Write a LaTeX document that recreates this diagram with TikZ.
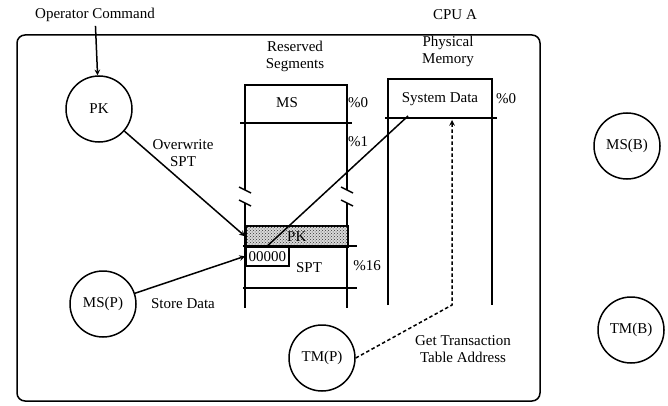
\documentclass[tikz,border=0pt]{standalone}
\usepackage{fontspec}
\setmainfont{Liberation Serif}
\usetikzlibrary{positioning,patterns}

\begin{document}
\begin{tikzpicture}[x=1pt,y=-1pt,->,>=stealth,line width=1.5pt,
    every node/.style={font=\fontsize{15}{17}\selectfont,align=center},
    proc node/.style={circle,draw,minimum size=66pt,inner sep=0pt},
    seg box/.style={draw,anchor=north west,inner sep=0pt},
    dotted link/.style={dash pattern=on 3.5pt off 2.5pt}]
    \useasboundingbox (0,0) rectangle (668,406);

    % CPU A frame
    \draw[-,rounded corners=8pt] (17,35) rectangle (540,401);
    \node (cpu) at (455,15) {CPU A};
    \node (cmd) at (95,15) {Operator Command};

    % processes
    \node[proc node] (pk) at (99,109) {PK};
    \node[proc node] (msp) at (103,304) {MS(P)};
    \node[proc node] (tmp) at (322,358) {TM(P)};
    \node[proc node] (msb) at (627,146) {MS(B)};
    \node[proc node] (tmb) at (631,330) {TM(B)};

    % reserved segments
    \node (reslbl) at (295,56) {Reserved\\Segments};
    \draw[-] (245,190) -- (245,85) -- (347,85) -- (347,190);
    \draw[-] (245,203) -- (245,308);
    \draw[-] (347,203) -- (347,308);
    \draw[-] (239,187) -- (251,193);
    \draw[-] (239,200) -- (251,206);
    \draw[-] (341,187) -- (353,193);
    \draw[-] (341,200) -- (353,206);
    \draw[-] (240,123) -- (352,123);
    \node (ms) at (287,103) {MS};
    \node (off0) at (358,103) {\%0};
    \node (off1) at (358,142) {\%1};
    \node[seg box,fill=gray!30,postaction={pattern=crosshatch dots,pattern color=black!80},
          minimum width=102pt,minimum height=21pt] (pkseg) at (245,225) {PK};
    \draw[-] (243,246) -- (357,246);
    \node[seg box,fill=white,minimum width=43pt,minimum height=19pt] (zbox) at (245,246) {00000};
    \node (spt) at (309,268) {SPT};
    \node (off16) at (367,266) {\%16};
    \draw[-] (243,288) -- (357,288);

    % physical memory
    \node (physlbl) at (448,51) {Physical\\Memory};
    \draw[-] (388,305) -- (388,79) -- (492,79) -- (492,305);
    \draw[-] (385,118) -- (497,118);
    \node (sdata) at (440,99) {System Data};
    \node (poff0) at (506,99) {\%0};
    \coordinate (sdlink) at (408,116);
    \coordinate (sdtip) at (452,120);
    \coordinate (bend) at (452,305);

    % labels
    \node (owlbl) at (183,153) {Overwrite\\SPT};
    \node (stlbl) at (183,304) {Store Data};
    \node (gtlbl) at (463,349) {Get Transaction\\Table Address};

    \path
        (cmd) edge (pk)
        (pk) edge (pkseg.west)
        (msp) edge (zbox.west)
        (zbox.north) edge[-] (sdlink)
        ;
    \draw[dotted link] (tmp.east) -- (bend) -- (sdtip);
\end{tikzpicture}
\end{document}
